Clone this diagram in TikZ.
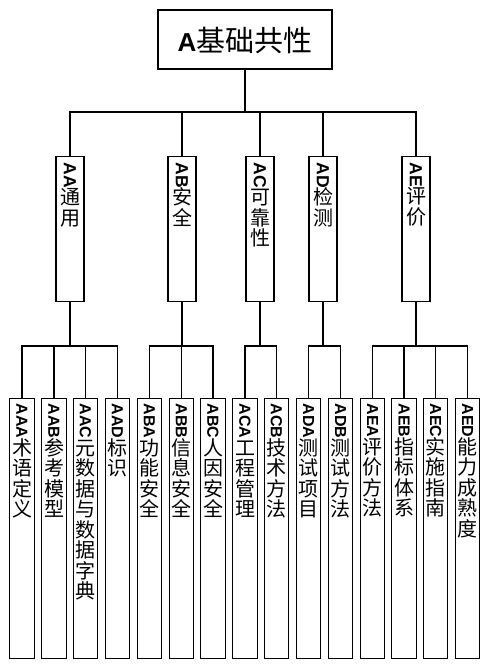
\documentclass[tikz,border=0pt]{standalone}
\usepackage{fontspec}
\setmainfont{Noto Sans CJK SC}
\newfontfamily\lat{Liberation Sans}
\usepackage{graphicx}
\makeatletter
\newcommand\vlab[6]{\parbox[c][#2][t]{#1}{\offinterlineskip\centering\vspace*{#3}%
 \rotatebox{-90}{\fontsize{#4}{#4}\lat\bfseries #5}\par
 \fontsize{20pt}{20pt}\selectfont
 \@tfor\vch:=#6\do{\vrule width0pt height17pt depth3.5pt\smash{\vch}\par}}}
\makeatother
\newcommand\midlab[2]{\vlab{28pt}{145pt}{6pt}{17.5pt}{#1}{#2}}
\newcommand\lowlab[2]{\vlab{24.5pt}{260pt}{5pt}{16pt}{#1}{#2}}
\tikzset{
  box/.style={draw, line width=1.2pt, inner sep=0pt, anchor=north},
  conn/.style={line width=1.2pt},
}
\begin{document}
\begin{tikzpicture}[x=1pt,y=-1pt]
\fill[white] (0,0) rectangle (490,668);
\useasboundingbox (0,0) rectangle (490,668);
\node[draw, line width=1.2pt, minimum width=174pt, minimum height=59pt, inner sep=0pt,
      text height=28pt, text depth=4pt] (top) at (245,39.5)
  {{\fontsize{26pt}{26pt}\lat\bfseries A}{\fontsize{29pt}{29pt}\selectfont 基础共性}};
% level 2
\node[box] (aa) at (70,156)  {\midlab{AA}{通用}};
\node[box] (ab) at (182,156) {\midlab{AB}{安全}};
\node[box] (ac) at (260,156) {\midlab{AC}{可靠性}};
\node[box] (ad) at (323,156) {\midlab{AD}{检测}};
\node[box] (ae) at (416,156) {\midlab{AE}{评价}};
% level 3
\node[box] (aaa) at (22,398)    {\lowlab{AAA}{术语定义}};
\node[box] (aab) at (54,398)    {\lowlab{AAB}{参考模型}};
\node[box] (aac) at (85.5,398)  {\lowlab{AAC}{元数据与数据字典}};
\node[box] (aad) at (117.5,398) {\lowlab{AAD}{标识}};
\node[box] (aba) at (149.5,398) {\lowlab{ABA}{功能安全}};
\node[box] (abb) at (181.5,398) {\lowlab{ABB}{信息安全}};
\node[box] (abc) at (213,398)   {\lowlab{ABC}{人因安全}};
\node[box] (aca) at (245,398)   {\lowlab{ACA}{工程管理}};
\node[box] (acb) at (276.5,398) {\lowlab{ACB}{技术方法}};
\node[box] (ada) at (308.5,398) {\lowlab{ADA}{测试项目}};
\node[box] (adb) at (340.5,398) {\lowlab{ADB}{测试方法}};
\node[box] (aea) at (372.5,398) {\lowlab{AEA}{评价方法}};
\node[box] (aeb) at (404,398)   {\lowlab{AEB}{指标体系}};
\node[box] (aec) at (435.5,398) {\lowlab{AEC}{实施指南}};
\node[box] (aed) at (467.5,398) {\lowlab{AED}{能力成熟度}};
% connectors
\coordinate (b1) at (0,112);
\coordinate (b2) at (0,346);
\coordinate (j1) at (top.south |- b1);
\draw[conn] (top.south) -- (j1);
\foreach \n in {aa,ab,ac,ad,ae} \draw[conn] (j1) -| (\n.north);
\foreach \p/\kids in {aa/{aaa,aab,aac,aad}, ab/{aba,abb,abc}, ac/{aca,acb}, ad/{ada,adb}, ae/{aea,aeb,aec,aed}} {
  \coordinate (j-\p) at (\p.south |- b2);
  \draw[conn] (\p.south) -- (j-\p);
  \foreach \k in \kids \draw[conn] (j-\p) -| (\k.north);
}
\end{tikzpicture}
\end{document}
